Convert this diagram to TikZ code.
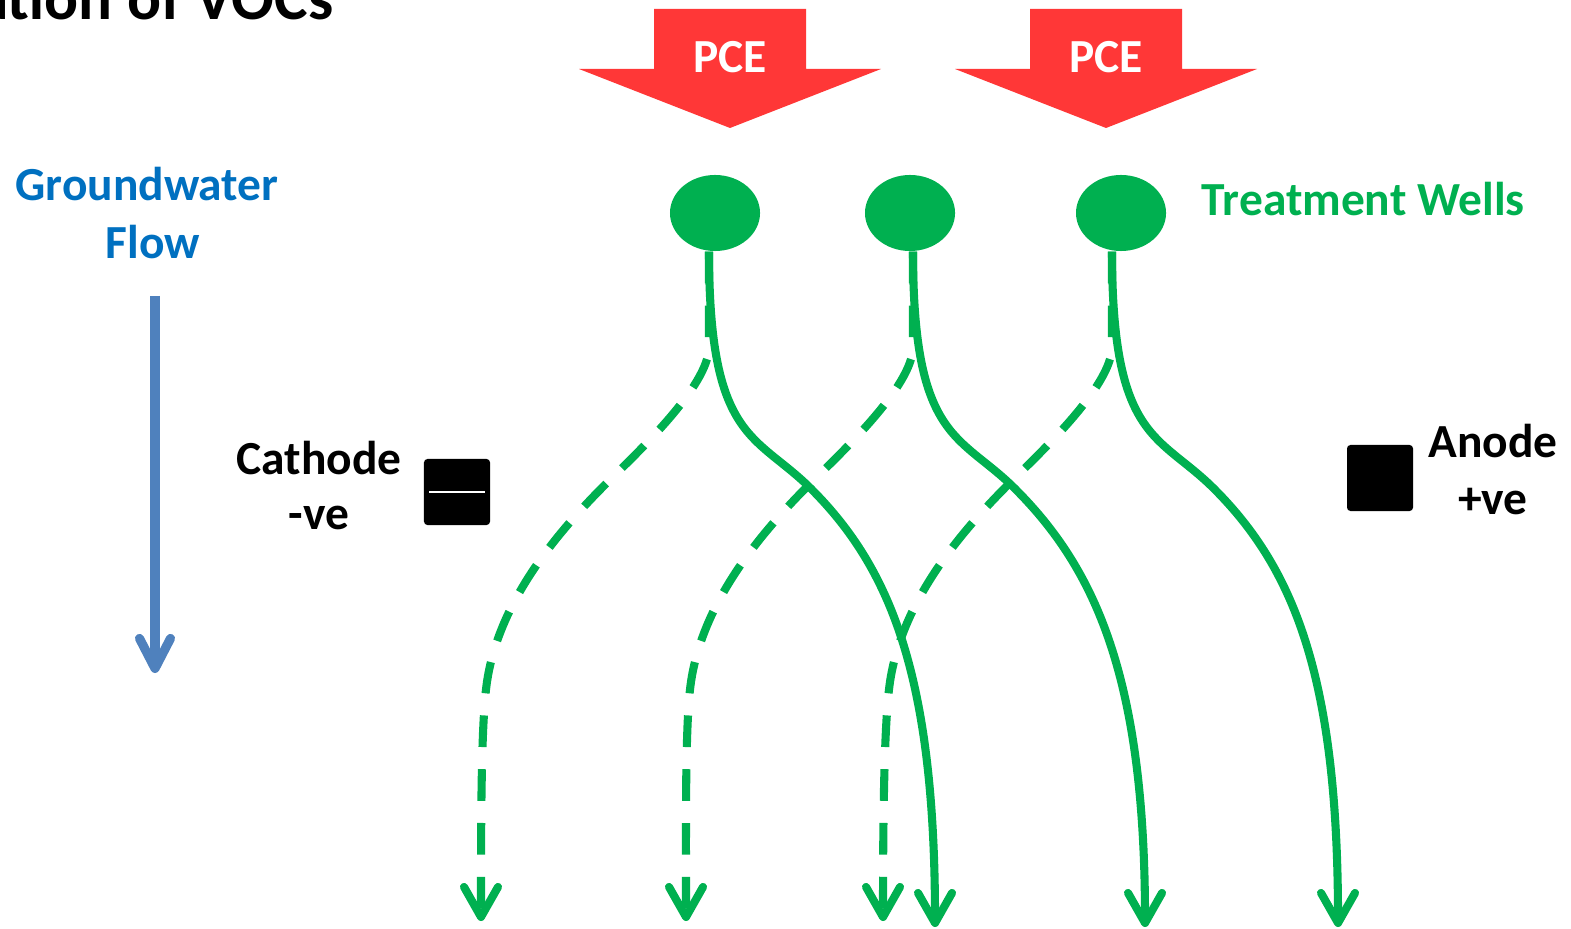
\documentclass[tikz,border=0pt]{standalone}
\usepackage{fontspec}
\setmainfont{Carlito}
\usetikzlibrary{shapes.geometric,arrows.meta}

\definecolor{wellgreen}{RGB}{0,176,80}
\definecolor{flowblue}{RGB}{0,112,192}
\definecolor{arrowblue}{RGB}{79,129,189}
\definecolor{pcered}{RGB}{255,55,55}

\tikzset{
  lbl/.style={font=\fontsize{13.5}{16}\selectfont\bfseries, inner sep=0pt},
  well/.style={ellipse, fill=wellgreen, minimum width=0.9cm, minimum height=0.76cm, inner sep=0pt},
  electrode/.style={fill=black, minimum size=0.66cm, inner sep=0pt, rounded corners=1pt},
  flowline/.style={wellgreen, line width=2.3pt, -{Straight Barb[length=3mm,width=3.4mm,round]}},
  flowdash/.style={flowline, dash pattern=on 9pt off 6.3pt}
}

\begin{document}
\begin{tikzpicture}[x=0.01cm, y=-0.01cm]
    \useasboundingbox (0,0) rectangle (1571,928);

    % Title, cut off at the top
    \node[font=\fontsize{18}{20}\selectfont\bfseries, anchor=base east, inner sep=0pt] (title) at (334,20) {ation of VOCs};

    % Groundwater flow
    \node[lbl, flowblue, anchor=base] (gw) at (147,201) {Groundwater};
    \node[lbl, flowblue, anchor=base] (gwflow) at (153,259) {Flow};
    \coordinate (gwtop) at (155,296);
    \coordinate (gwend) at (155,673);
    \draw[arrowblue, line width=2.6pt, -{Straight Barb[length=3mm,width=3.1mm,round]}] (gwtop) -- (gwend);

    % PCE arrows
    \foreach \x/\n in {730/1, 1106/2} {
      \fill[pcered] (\x-76,9) -- (\x+76,9) -- (\x+76,69) -- (\x+151,69) -- (\x,128) -- (\x-151,69) -- (\x-76,69) -- cycle;
      \node[lbl, white, anchor=base] (pce\n) at (\x,73) {PCE};
    }

    % Cathode and anode
    \node[electrode] (cathode) at (457,492) {};
    \draw[white, line width=0.4pt] ([xshift=0.06cm]cathode.west) -- ([xshift=-0.06cm]cathode.east);
    \node[lbl, anchor=base] (catlbl) at (319,474) {Cathode};
    \node[lbl, anchor=base] (catsign) at (319,529) {-ve};
    \node[electrode] (anode) at (1380,478) {};
    \node[lbl, anchor=base] (anlbl) at (1493,457) {Anode};
    \node[lbl, anchor=base] (ansign) at (1493,514) {+ve};

    % Treatment wells
    \node[well] (w1) at (715,213) {};
    \node[well] (w2) at (910,213) {};
    \node[well] (w3) at (1121,213) {};
    \node[lbl, wellgreen, anchor=base west] (twlbl) at (1201,216) {Treatment Wells};

    % Flow paths from the wells
    \coordinate (s1) at (935,927);
    \coordinate (s2) at (1145,927);
    \coordinate (s3) at (1338,927);
    \coordinate (d1) at (481,921);
    \coordinate (d2) at (686,921);
    \coordinate (d3) at (883,921);
    \foreach \i/\sh in {1/-6, 2/3, 3/-9} {
      \draw[flowline] ([xshift=\sh*0.01cm]w\i.south) .. controls +(0,190) and +(-55,-55) .. ++(102,237)
        .. controls +(80,80) and +(0,-250) .. (s\i);
      \draw[flowdash] ([xshift=\sh*0.01cm]w\i.south) -- ++(0,95) .. controls +(0,40) and +(28,-28) .. ++(-103,137)
        .. controls +(-50,50) and +(12,-80) .. ++(-119,198) .. controls +(-6,40) and +(0,-100) .. (d\i);
    }
\end{tikzpicture}
\end{document}
